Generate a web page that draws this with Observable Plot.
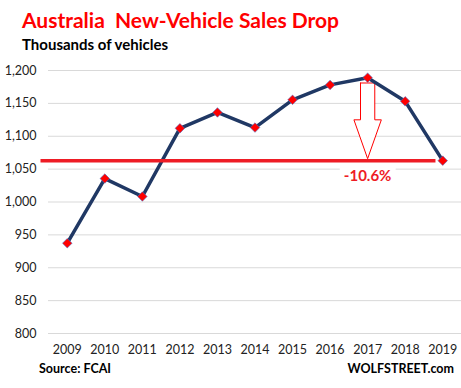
<!DOCTYPE html>
<html>
<head>
<meta charset="utf-8">
<script src="https://cdn.jsdelivr.net/npm/d3@7"></script>
<script src="https://cdn.jsdelivr.net/npm/@observablehq/plot@0.6"></script>
<style>
  body { margin: 0; background: #fff; }
  #wrap { position: relative; width: 461px; height: 388px; overflow: hidden; font-family: Lato, "Open Sans", sans-serif; }
  #wrap svg { position: absolute; left: 0; top: 0; }
  .t { position: absolute; white-space: nowrap; font-weight: bold; }
  #title { left: 22px; top: 7px; font-size: 21px; color: #ff0000; }
  #sub { left: 22px; top: 35px; font-size: 15px; color: #000; }
  #src { left: 39px; top: 361px; font-size: 12.5px; color: #000; }
  #wolf { right: 7px; top: 361px; font-size: 12.5px; color: #000; }
</style>
</head>
<body>
<div id="wrap">
  <div class="t" id="title">Australia&nbsp; New-Vehicle Sales Drop</div>
  <div class="t" id="sub">Thousands of vehicles</div>
  <div class="t" id="src">Source: FCAI</div>
  <div class="t" id="wolf">WOLFSTREET.com</div>
</div>
<script>
// Data (thousands of vehicles)
const years = [2009, 2010, 2011, 2012, 2013, 2014, 2015, 2016, 2017, 2018, 2019];
const sales = [937.3, 1035.6, 1008.4, 1112.0, 1136.2, 1113.2, 1155.4, 1178.1, 1189.1, 1153.1, 1062.9];
const yTicks = [800, 850, 900, 950, 1000, 1050, 1100, 1150, 1200];
const dropLabel = "-10.6%";

const data = years.map((y, i) => ({year: y, value: sales[i]}));
const last = sales[sales.length - 1];
const peakYear = 2017;

// Annotation geometry in data units
const arrowTop = 1181, arrowNeck = 1125, arrowTip = last + 3;
const shaftHalf = 0.19, headHalf = 0.365;
const arrow = [
  [peakYear - shaftHalf, arrowTop],
  [peakYear + shaftHalf, arrowTop],
  [peakYear + shaftHalf, arrowNeck],
  [peakYear + headHalf, arrowNeck],
  [peakYear, arrowTip],
  [peakYear - headHalf, arrowNeck],
  [peakYear - shaftHalf, arrowNeck],
  [peakYear - shaftHalf, arrowTop]
].map(([x, y]) => ({x, y}));

const chart = Plot.plot({
  width: 461,
  height: 388,
  marginTop: 70,
  marginBottom: 55,
  marginLeft: 48,
  marginRight: 0,
  style: {fontFamily: "Lato, 'Open Sans', sans-serif", fontSize: "12.5px", color: "#222", background: "transparent"},
  x: {type: "linear", domain: [2008.5, 2019.5]},
  y: {domain: [800, 1200]},
  marks: [
    Plot.gridY({ticks: yTicks, stroke: "#d9d9d9", strokeOpacity: 1, strokeWidth: 1}),
    Plot.axisY({ticks: yTicks, tickSize: 0, tickPadding: 12, tickFormat: d3.format(","), label: null, fontSize: 12.5}),
    Plot.axisX({ticks: years, tickSize: 0, tickPadding: 12, tickFormat: d => String(d), label: null, fontSize: 12.5}),
    Plot.rect([0], {x1: 2016.27, x2: 2017.76, y1: 1025, y2: 1055, fill: "white"}),
    Plot.line(arrow, {x: "x", y: "y", stroke: "#ff0000", strokeWidth: 1, fill: "white", curve: "linear"}),
    Plot.line(data, {x: "year", y: "value", stroke: "#203864", strokeWidth: 3.5}),
    Plot.ruleY([last], {x1: 2008.3, x2: 2018.82, stroke: "#ee1c25", strokeWidth: 3.5}),
    Plot.dot(data, {x: "year", y: "value", symbol: "diamond2", r: 4.3, fill: "#ff0000", stroke: "#4a6fc4", strokeWidth: 0.6}),
    Plot.text([dropLabel], {x: peakYear, y: 1039, text: d => d, fill: "#ee1c25", fontSize: 15, fontWeight: "bold"})
  ]
});
document.getElementById("wrap").prepend(chart);
</script>
</body>
</html>
